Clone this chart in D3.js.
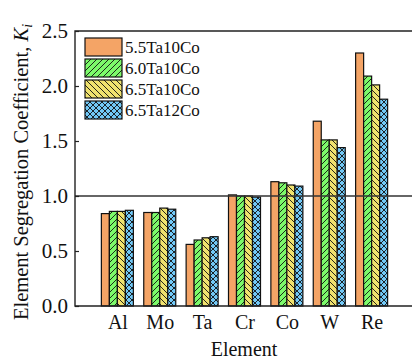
<!DOCTYPE html>
<html><head><meta charset="utf-8">
<script src="https://cdn.jsdelivr.net/npm/d3@7"></script>
<style>body{margin:0;background:#fff}svg{font-family:"Liberation Serif","Times New Roman",serif}</style>
</head><body><svg id="c" width="412" height="361"></svg>
<script>
const categories = ["Al","Mo","Ta","Cr","Co","W","Re"];
const seriesNames = ["5.5Ta10Co","6.0Ta10Co","6.5Ta10Co","6.5Ta12Co"];
const s55Ta10Co = [0.84,0.85,0.56,1.01,1.13,1.68,2.30];
const s60Ta10Co = [0.86,0.85,0.60,1.00,1.12,1.51,2.09];
const s65Ta10Co = [0.86,0.89,0.62,1.00,1.10,1.51,2.01];
const s65Ta12Co = [0.87,0.88,0.63,0.99,1.09,1.44,1.88];
const yTicks = [0.0,0.5,1.0,1.5,2.0,2.5];
const refValue = 1.0;
const series = [s55Ta10Co,s60Ta10Co,s65Ta10Co,s65Ta12Co];
const colors = ["#F4A466","#7CFA6A","#F0E26E","#72C8F6"];
const patterns = [null,"fwd","back","cross"];

const svg = d3.select("#c");
const L=75,R=414,T=31,B=306;
const x = d3.scalePoint().domain(categories).range([L,R]).padding(1);
const y = d3.scaleLinear().domain([0,2.5]).range([B,T]);
const xs = d3.scaleBand().domain(d3.range(4)).range([-16,16]).padding(0);

const defs = svg.append("defs");
function mkPat(id,color,type){
  const p = defs.append("pattern").attr("id",id).attr("patternUnits","userSpaceOnUse").attr("width",6).attr("height",6);
  p.append("rect").attr("width",6).attr("height",6).attr("fill",color);
  const add = d => p.append("path").attr("d",d).attr("fill","none").attr("stroke","#111").attr("stroke-width",0.9);
  if(type==="fwd"||type==="cross") add("M-1,7 L7,-1 M-1,1 L1,-1 M5,7 L7,5");
  if(type==="back"||type==="cross") add("M-1,-1 L7,7 M-1,5 L1,7 M5,-1 L7,1");
}
series.forEach((s,i)=>{ if(patterns[i]) mkPat("p"+i,colors[i],patterns[i]); });
const fillOf = i => patterns[i] ? `url(#p${i})` : colors[i];

// bars
series.forEach((s,i)=>{
  svg.append("g").selectAll("rect").data(s).join("rect")
    .attr("x",(d,j)=>x(categories[j])+xs(i))
    .attr("y",d=>y(d))
    .attr("width",xs.bandwidth())
    .attr("height",d=>B-y(d))
    .attr("fill",fillOf(i))
    .attr("stroke","#111").attr("stroke-width",1.2);
});

// reference line
svg.append("line").attr("x1",L).attr("x2",412).attr("y1",y(refValue)).attr("y2",y(refValue))
  .attr("stroke","#333").attr("stroke-width",1.3);

// frame
svg.append("path").attr("d",`M${L},${B} L${L},${T} L${R},${T} L${R},${B} Z`).attr("fill","none").attr("stroke","#222").attr("stroke-width",1.4);

// y axis
const ya = svg.append("g").attr("transform",`translate(${L},0)`)
  .call(d3.axisLeft(y).tickValues(yTicks).tickFormat(d3.format(".1f")).tickSizeInner(-4).tickSizeOuter(0).tickPadding(7));
ya.select(".domain").remove();
ya.selectAll("text").attr("font-size",21).attr("fill","#111").attr("font-family","Liberation Serif");
ya.selectAll("line").attr("stroke","#222").attr("stroke-width",1.2);

// x axis
const xa = svg.append("g").attr("transform",`translate(0,${B})`)
  .call(d3.axisBottom(x).tickSize(0).tickPadding(9));
xa.select(".domain").remove();
xa.selectAll("text").attr("font-size",20).attr("fill","#111").attr("font-family","Liberation Serif");

// axis titles
svg.append("text").attr("x",244).attr("y",356).attr("text-anchor","middle").attr("font-size",20).attr("fill","#111").text("Element");
const yt = svg.append("text").attr("transform",`translate(28,${172}) rotate(-90)`).attr("text-anchor","middle").attr("font-size",20.5).attr("fill","#111");
yt.append("tspan").text("Element Segregation Coefficient, ");
yt.append("tspan").attr("font-style","italic").text("K");
yt.append("tspan").attr("font-style","italic").attr("font-size",14).attr("dy",4).text("i");

// legend
const lg = svg.append("g");
seriesNames.forEach((n,i)=>{
  const yy = 38 + i*21;
  lg.append("rect").attr("x",85).attr("y",yy).attr("width",37).attr("height",18).attr("fill",fillOf(i)).attr("stroke","#111").attr("stroke-width",1.2);
  lg.append("text").attr("x",125).attr("y",yy+15).attr("font-size",17).attr("fill","#111").text(n);
});
</script></body></html>
